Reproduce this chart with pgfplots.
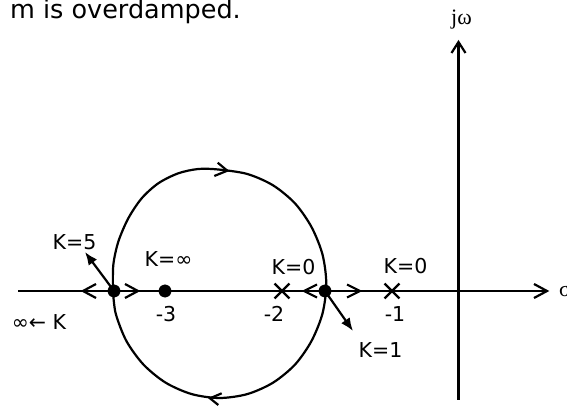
\documentclass[border=0pt]{standalone}
\usepackage{fontspec}
\setmainfont{DejaVu Sans}
\newfontfamily\serif{Liberation Serif}
\usepackage{pgfplots}
\pgfplotsset{compat=1.18}
\usetikzlibrary{arrows.meta}

\begin{document}
\begin{tikzpicture}[
    lbl/.style={font=\fontsize{20.5bp}{24bp}\selectfont, inner sep=0pt, anchor=base},
    chev/.style={black, line width=2.2bp, line join=miter, mark=none},
    ln/.style={black, line width=2.4bp, mark=none},
]
\begin{axis}[
    width=567bp, height=406bp, scale only axis,
    xmin=0, xmax=567, ymin=0, ymax=406,
    hide axis, clip=false,
    anchor=south west, at={(0,0)},
]
% sigma and j-omega axes
\addplot[ln] coordinates {(18,115) (547,115)};
\addplot[ln] coordinates {(458.5,6) (458.5,364)};
\addplot[chev] coordinates {(534,122) (547,115) (534,108)};
\addplot[chev] coordinates {(451.5,353) (458.5,364) (465.5,353)};

% root locus circle
\addplot[ln, line width=2.2bp, smooth] coordinates {
    (113,115) (113.3,141) (118.3,164.3) (128.3,187.7) (141.7,207.7)
    (158.3,222.7) (178.3,232.7) (198.3,237) (218.3,236.5) (247.3,232)
    (273,220.7) (295,202.6) (311.5,179) (322.5,151.5) (326.3,122)
    (322.5,92.5) (311.5,65) (295,41.4) (273,23.3) (247.3,11.9)
    (219.5,8) (191.7,11.9) (165.7,23.3) (143.5,41.4) (126.4,65)
    (115.7,92.5) (113,115)
};
\addplot[chev] coordinates {(217.7,243.3) (227.3,235.3) (214.3,230)};
\addplot[chev] coordinates {(221.7,12.7) (210,7.7) (218.3,1)};

% direction chevrons on the real axis
\addplot[chev] coordinates {(96,122) (83,115) (96,108)};
\addplot[chev] coordinates {(125,122) (138,115) (125,108)};
\addplot[chev] coordinates {(317,121.5) (304,115) (317,108.5)};
\addplot[chev] coordinates {(347,121.5) (360,115) (347,108.5)};

% breakaway / break-in pointers
\addplot[ln, line width=2.2bp, -{Latex[length=13bp,width=10.5bp]}] coordinates {(114,115) (85,154)};
\addplot[ln, line width=2.2bp, -{Latex[length=13bp,width=10.5bp]}] coordinates {(325,115) (353,75)};

% poles and zeros
\addplot[black, only marks, mark=*, mark size=6.2bp] coordinates {(114,115) (165,115) (325,115)};
\addplot[black, only marks, mark=x, mark size=10.5bp,
    mark options={line width=2.4bp}] coordinates {(282,115) (392,115)};

% labels
\node[font=\fontsize{25.5bp}{30bp}\selectfont, inner sep=0pt, anchor=base east] at (241,387.7) {m is overdamped.};
\node[lbl] at (74.5,156) {K=5};
\node[lbl] at (168.5,139) {K=∞};
\node[lbl] at (293.5,131) {K=0};
\node[lbl] at (405.5,132) {K=0};
\node[lbl] at (380.5,48) {K=1};
\node[lbl] at (166,84) {-3};
\node[lbl] at (274,84) {-2};
\node[lbl] at (395,84) {-1};
\node[lbl] at (39,76) {∞← K};
\node[font=\serif\fontsize{22bp}{26bp}\selectfont, inner sep=0pt, anchor=base] at (461.5,381) {jω};
\node[font=\serif\fontsize{22bp}{26bp}\selectfont, inner sep=0pt, anchor=base west] at (559,109) {σ};
\end{axis}
\pgfresetboundingbox
\path[use as bounding box] (0,0) rectangle (567bp,406bp);
\end{tikzpicture}
\end{document}
